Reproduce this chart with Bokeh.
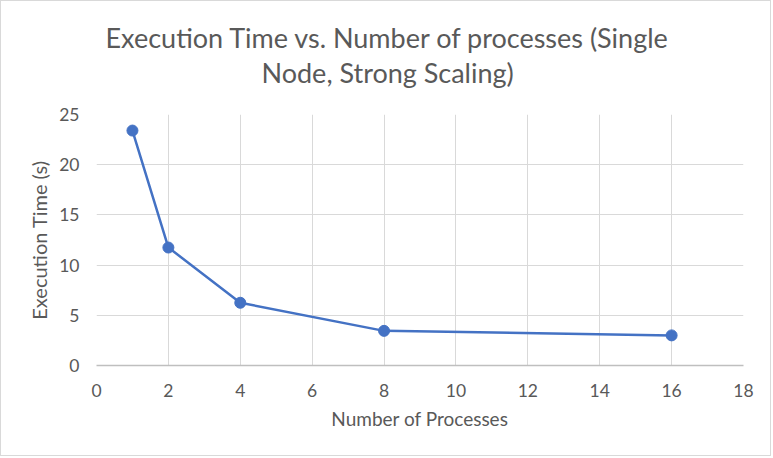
from bokeh.plotting import figure
from bokeh.models import Range1d, FixedTicker, Title, ColumnDataSource
from bokeh.embed import file_html
from bokeh.resources import INLINE

# data
processes = [1, 2, 4, 8, 16]
exec_time = [23.4, 11.75, 6.25, 3.45, 3.0]
x_ticks = [0, 2, 4, 6, 8, 10, 12, 14, 16, 18]
y_ticks = [0, 5, 10, 15, 20, 25]
title_lines = ["Execution Time vs. Number of processes (Single", "Node, Strong Scaling)"]
x_title = "Number of Processes"
y_title = "Execution Time (s)"

FONT = "Lato"
GRAY = "#595959"
BLUE = "#4472C4"

p = figure(width=771, height=456, output_backend="svg", toolbar_location=None,
           x_range=Range1d(0, 18), y_range=Range1d(0, 25),
           min_border_left=95, min_border_right=29, min_border_top=113, min_border_bottom=92)
p.styles = {"border": "1px solid #d9d9d9"}
p.background_fill_color = "white"
p.border_fill_color = "white"
p.outline_line_color = None

p.xaxis.ticker = FixedTicker(ticks=x_ticks)
p.yaxis.ticker = FixedTicker(ticks=y_ticks)
for ax in (p.xaxis, p.yaxis):
    ax.major_tick_line_color = None
    ax.minor_tick_line_color = None
    ax.major_label_text_color = GRAY
    ax.major_label_text_font = FONT
    ax.major_label_text_font_size = "17.5px"
    ax.axis_label_text_color = GRAY
    ax.axis_label_text_font = FONT
    ax.axis_label_text_font_style = "normal"
p.xaxis.axis_label_text_font_size = "19px"
p.yaxis.axis_label_text_font_size = "20px"
p.xaxis.axis_line_color = "#bfbfbf"
p.xaxis.axis_line_width = 1.5
p.yaxis.axis_line_color = None
p.xaxis.major_label_standoff = 12
p.yaxis.major_label_standoff = 11
p.xaxis.axis_label = x_title
p.yaxis.axis_label = y_title
p.xaxis.axis_label_standoff = 7
p.yaxis.axis_label_standoff = 5

p.xgrid.ticker = FixedTicker(ticks=x_ticks)
p.ygrid.ticker = FixedTicker(ticks=y_ticks)
p.grid.grid_line_color = "#d9d9d9"
p.grid.grid_line_width = 1

src = ColumnDataSource(dict(x=processes, y=exec_time))
p.line("x", "y", source=src, line_color=BLUE, line_width=2.5)
p.scatter("x", "y", source=src, size=11, fill_color=BLUE, line_color=BLUE)

# the first title added sits nearest the frame; an empty one adds space
p.add_layout(Title(text=" ", text_font_size="1px", standoff=23), "above")
p.add_layout(Title(text=title_lines[1], align="left", offset=165, text_font=FONT,
                   text_font_size="27px", text_font_style="normal",
                   text_color=GRAY, standoff=0), "above")
p.add_layout(Title(text=title_lines[0], align="left", offset=9, text_font=FONT,
                   text_font_size="27px", text_font_style="normal",
                   text_color=GRAY, standoff=0), "above")

open("out.html", "w").write(file_html(p, INLINE))
